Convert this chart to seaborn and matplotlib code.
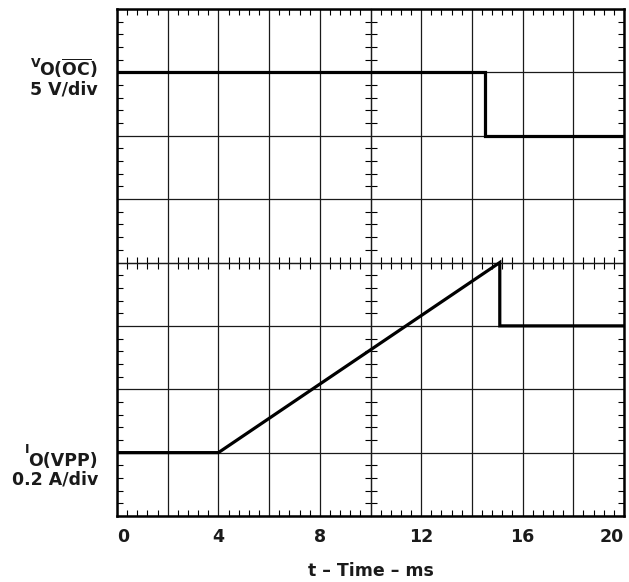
import matplotlib
matplotlib.use("Agg")
import matplotlib.pyplot as plt
from matplotlib.ticker import MultipleLocator
import seaborn as sns
import pandas as pd

# ---- data (time in ms, level in screen divisions from bottom) ----
time_v = [0, 14.5, 14.5, 20]
level_v = [7, 7, 6, 6]
time_i = [0, 4, 15.1, 15.1, 20]
level_i = [1, 1, 4, 3, 3]
grid_ticks = [0, 2, 4, 6, 8, 10, 12, 14, 16, 18, 20]
xtick_labels = ["0", "", "4", "", "8", "", "12", "", "16", "", "20"]

sns.set_theme(style="white")
FONT = ["DejaVu Sans"]
plt.rcParams["font.family"] = FONT
plt.rcParams["font.weight"] = "bold"
plt.rcParams["mathtext.fontset"] = "custom"
plt.rcParams["mathtext.rm"] = "DejaVu Sans:bold"
plt.rcParams["mathtext.it"] = "DejaVu Sans:bold"
plt.rcParams["mathtext.bf"] = "DejaVu Sans:bold"

W, H = 629, 582
fig = plt.figure(figsize=(W / 100, H / 100), dpi=100)
pos = [117 / W, 1 - 516 / H, (624 - 117) / W, (516 - 9) / H]
ax = fig.add_axes(pos)

df_v = pd.DataFrame({"t": time_v, "y": level_v})
df_i = pd.DataFrame({"t": time_i, "y": level_i})
for d in (df_v, df_i):
    sns.lineplot(data=d, x="t", y="y", ax=ax, sort=False, estimator=None,
                 color="black", linewidth=2.3, zorder=5,
                 solid_capstyle="butt", solid_joinstyle="miter")

ax.set_xlim(0, 20)
ax.set_ylim(0, 8)
ax.set_xticks(grid_ticks)
ax.set_xticklabels(xtick_labels, fontsize=12.5, fontweight="bold", color="#1a1a1a")
ax.yaxis.set_major_locator(MultipleLocator(1))
ax.xaxis.set_minor_locator(MultipleLocator(0.4))
ax.yaxis.set_minor_locator(MultipleLocator(0.2))
ax.grid(True, which="major", color="#1a1a1a", linewidth=0.9)
for s in ax.spines.values():
    s.set_visible(True)
    s.set_color("black")
    s.set_linewidth(1.8)
ax.tick_params(which="major", length=0, direction="in", top=True, right=True,
               labelleft=False, pad=9)
ax.tick_params(which="minor", length=4, width=0.8, direction="in",
               top=True, right=True, bottom=True, left=True, color="black")
labs = ax.get_xticklabels()
labs[0].set_ha("left")
labs[-1].set_ha("right")
ax.set_xlabel("t – Time – ms", fontsize=12.5, fontweight="bold", color="#1a1a1a",
              labelpad=11)
ax.set_ylabel("")

# central crosshair with graduated ticks
ax2 = fig.add_axes(pos, label="crosshair")
ax2.set_xlim(0, 20)
ax2.set_ylim(0, 8)
ax2.patch.set_visible(False)
for k in ("top", "right"):
    ax2.spines[k].set_visible(False)
ax2.spines["left"].set_position(("data", 10))
ax2.spines["bottom"].set_position(("data", 4))
for k in ("left", "bottom"):
    ax2.spines[k].set_linewidth(0.9)
    ax2.spines[k].set_color("#1a1a1a")
ax2.xaxis.set_major_locator(MultipleLocator(2))
ax2.yaxis.set_major_locator(MultipleLocator(1))
ax2.xaxis.set_minor_locator(MultipleLocator(0.4))
ax2.yaxis.set_minor_locator(MultipleLocator(0.2))
ax2.tick_params(which="both", bottom=True, left=True, top=False, right=False,
                labelleft=False, labelbottom=False)
ax2.tick_params(which="major", length=0)
ax2.tick_params(which="minor", length=8, width=0.8, direction="inout",
                color="black")
ax2.set_zorder(0.5)
ax.set_zorder(1)
ax.patch.set_visible(False)

def px(x, y):
    return x / W, 1 - y / H

fs = 12.5
tc = "#1a1a1a"
t_oc = fig.text(*px(98, 76), r"O($\overline{\mathrm{OC}}$)", fontsize=fs,
                fontweight="bold", ha="right", va="baseline", color=tc)
fig.text(*px(98, 95), "5 V/div", fontsize=fs, fontweight="bold", ha="right",
         va="baseline", color=tc)
t_vpp = fig.text(*px(98, 466), "O(VPP)", fontsize=fs, fontweight="bold",
                 ha="right", va="baseline", color=tc)
fig.text(*px(98, 485), "0.2 A/div", fontsize=fs, fontweight="bold", ha="right",
         va="baseline", color=tc)

fig.canvas.draw()
r = fig.canvas.get_renderer()
x_oc = t_oc.get_window_extent(r).x0
x_vpp = t_vpp.get_window_extent(r).x0
fig.text((x_oc + 1) / W, 1 - 67 / H, "V", fontsize=9, fontweight="bold",
         ha="right", va="baseline", color=tc)
fig.text((x_vpp + 1) / W, 1 - 453 / H, "I", fontsize=9, fontweight="bold",
         ha="right", va="baseline", color=tc)

fig.savefig("out.png", dpi=100)
